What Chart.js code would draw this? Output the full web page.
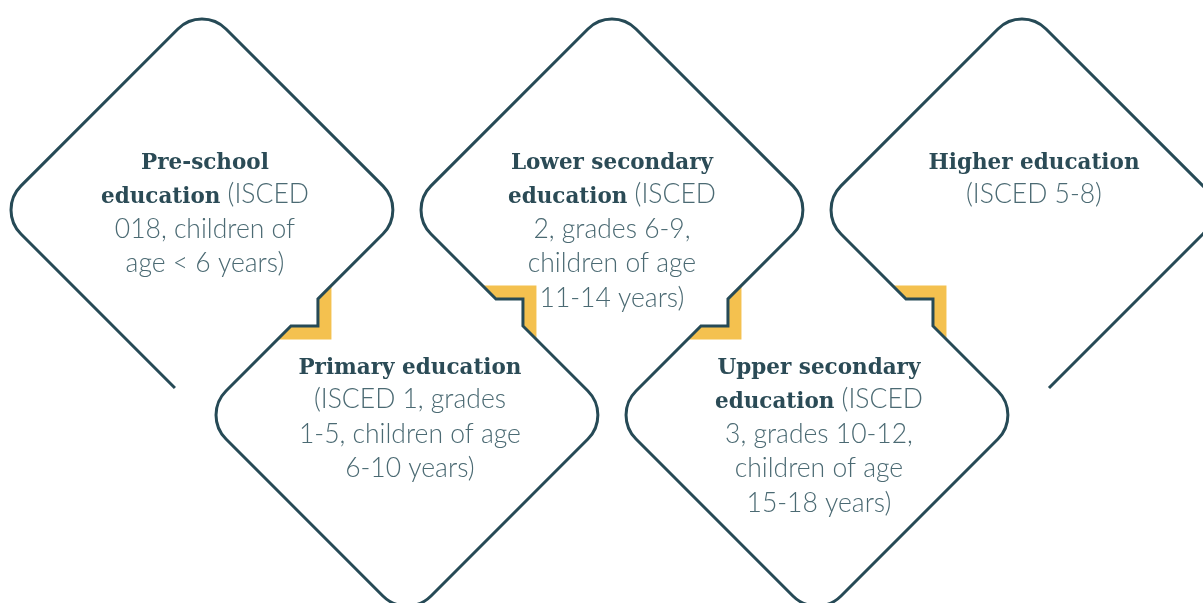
<!DOCTYPE html>
<html><head><meta charset="utf-8">
<script src="https://cdn.jsdelivr.net/npm/chart.js@4"></script>
<style>html,body{margin:0;padding:0;background:#fff}#wrap{width:1203px;height:603px;position:relative}</style>
</head><body><div id="wrap"><canvas id="c"></canvas></div>
<script>
// Education stages: column index and row (0 = upper, 1 = lower)
const stageIndex = [0, 1, 2, 3, 4];
const stageRow = [0, 1, 0, 1, 0];
// Text of each stage, line by line (**bold** = stage name)
const stageLines = [
  ["**Pre-school**", "**education** (ISCED", "018, children of", "age < 6 years)"],
  ["**Primary education**", "(ISCED 1, grades", "1-5, children of age", "6-10 years)"],
  ["**Lower secondary**", "**education** (ISCED", "2, grades 6-9,", "children of age", "11-14 years)"],
  ["**Upper secondary**", "**education** (ISCED", "3, grades 10-12,", "children of age", "15-18 years)"],
  ["**Higher education**", "(ISCED 5-8)"]
];
const xRange = [-0.985, 4.883];
const yRange = [-1.024, 1.917];

const STYLE = {
  line: '#264a56', lineWidth: 3, radius: 34,
  yellow: '#f4c14f', notch: 13.5, accent: 27, gap: 27,
  titleFont: 'bold 21.5px "DejaVu Serif"', bodyFont: '300 26.5px Lato',
  titleColor: '#2b4b56', bodyColor: '#4b6a73',
  firstBaseline: -41, lineHeight: 34.5,
  textDx: [3, 3, 0, 2, 12]
};

function parseRuns(s) {
  const runs = []; const re = /\*\*(.+?)\*\*/g; let last = 0, m;
  while ((m = re.exec(s))) {
    if (m.index > last) runs.push({t: s.slice(last, m.index), b: false});
    runs.push({t: m[1], b: true}); last = re.lastIndex;
  }
  if (last < s.length) runs.push({t: s.slice(last), b: false});
  return runs;
}

const diagramPlugin = {
  id: 'diagram',
  afterDatasetsDraw(chart) {
    const ctx = chart.ctx, xs = chart.scales.x, ys = chart.scales.y;
    const P = (x, y) => [xs.getPixelForValue(x), ys.getPixelForValue(y)];
    const a = STYLE.notch, b = STYLE.accent, g = STYLE.gap;
    const nodes = []; const steps = [];
    const b0 = P(stageIndex[0], stageRow[0] + 1);
    const start = [b0[0] - g, b0[1] - g];
    stageIndex.forEach((i, k) => {
      const row = stageRow[k];
      if (k > 0) {
        const prevRight = P(i, stageRow[k - 1]);
        const left = P(i - 1, row);
        const M = [(prevRight[0] + left[0]) / 2, (prevRight[1] + left[1]) / 2];
        const sy = row > stageRow[k - 1] ? 1 : -1;
        steps.push({M, sy});
        nodes.push({p: [M[0] + a, M[1] - sy * a], r: false});
        nodes.push({p: [M[0] + a, M[1] + sy * a], r: false});
        nodes.push({p: [M[0] - a, M[1] + sy * a], r: false});
      }
      nodes.push({p: P(i - 1, row), r: true});
      nodes.push({p: P(i, row === 0 ? row - 1 : row + 1), r: true});
      nodes.push({p: P(i + 1, row), r: true});
    });
    const lastK = stageIndex.length - 1;
    const bl = P(stageIndex[lastK], stageRow[lastK] + 1);
    const end = [bl[0] + g, bl[1] - g];

    ctx.save();
    // yellow accents
    ctx.fillStyle = STYLE.yellow;
    steps.forEach(({M, sy}) => {
      const pts = [[-b, sy * b], [b, sy * b], [b, -sy * b], [a, -sy * a], [a, sy * a], [-a, sy * a]];
      ctx.beginPath();
      pts.forEach((q, j) => j ? ctx.lineTo(M[0] + q[0], M[1] + q[1]) : ctx.moveTo(M[0] + q[0], M[1] + q[1]));
      ctx.closePath(); ctx.fill();
    });
    // outline
    ctx.beginPath();
    ctx.moveTo(start[0], start[1]);
    nodes.forEach((n, j) => {
      const nx = j + 1 < nodes.length ? nodes[j + 1].p : end;
      if (n.r) ctx.arcTo(n.p[0], n.p[1], nx[0], nx[1], STYLE.radius);
      else ctx.lineTo(n.p[0], n.p[1]);
    });
    ctx.lineTo(end[0], end[1]);
    ctx.strokeStyle = STYLE.line; ctx.lineWidth = STYLE.lineWidth;
    ctx.lineJoin = 'miter'; ctx.lineCap = 'butt';
    ctx.stroke();
    // text
    ctx.textBaseline = 'alphabetic'; ctx.textAlign = 'left';
    stageIndex.forEach((i, k) => {
      const c = P(i, stageRow[k]);
      const cx = c[0] + STYLE.textDx[k];
      stageLines[k].forEach((line, li) => {
        const runs = parseRuns(line);
        let w = 0;
        runs.forEach(r => { ctx.font = r.b ? STYLE.titleFont : STYLE.bodyFont; r.w = ctx.measureText(r.t).width; w += r.w; });
        let x = cx - w / 2; const y = c[1] + STYLE.firstBaseline + li * STYLE.lineHeight;
        runs.forEach(r => {
          ctx.font = r.b ? STYLE.titleFont : STYLE.bodyFont;
          ctx.fillStyle = r.b ? STYLE.titleColor : STYLE.bodyColor;
          ctx.fillText(r.t, x, y); x += r.w;
        });
      });
    });
    ctx.restore();
  }
};

new Chart(document.getElementById('c'), {
  type: 'scatter',
  data: {datasets: [{data: stageIndex.map((x, k) => ({x, y: stageRow[k]})), pointRadius: 0, showLine: false}]},
  options: {
    responsive: true, maintainAspectRatio: false, animation: false,
    layout: {padding: 0},
    scales: {
      x: {type: 'linear', min: xRange[0], max: xRange[1], display: false},
      y: {type: 'linear', min: yRange[0], max: yRange[1], reverse: true, display: false}
    },
    plugins: {legend: {display: false}, tooltip: {enabled: false}}
  },
  plugins: [diagramPlugin]
});
</script></body></html>
